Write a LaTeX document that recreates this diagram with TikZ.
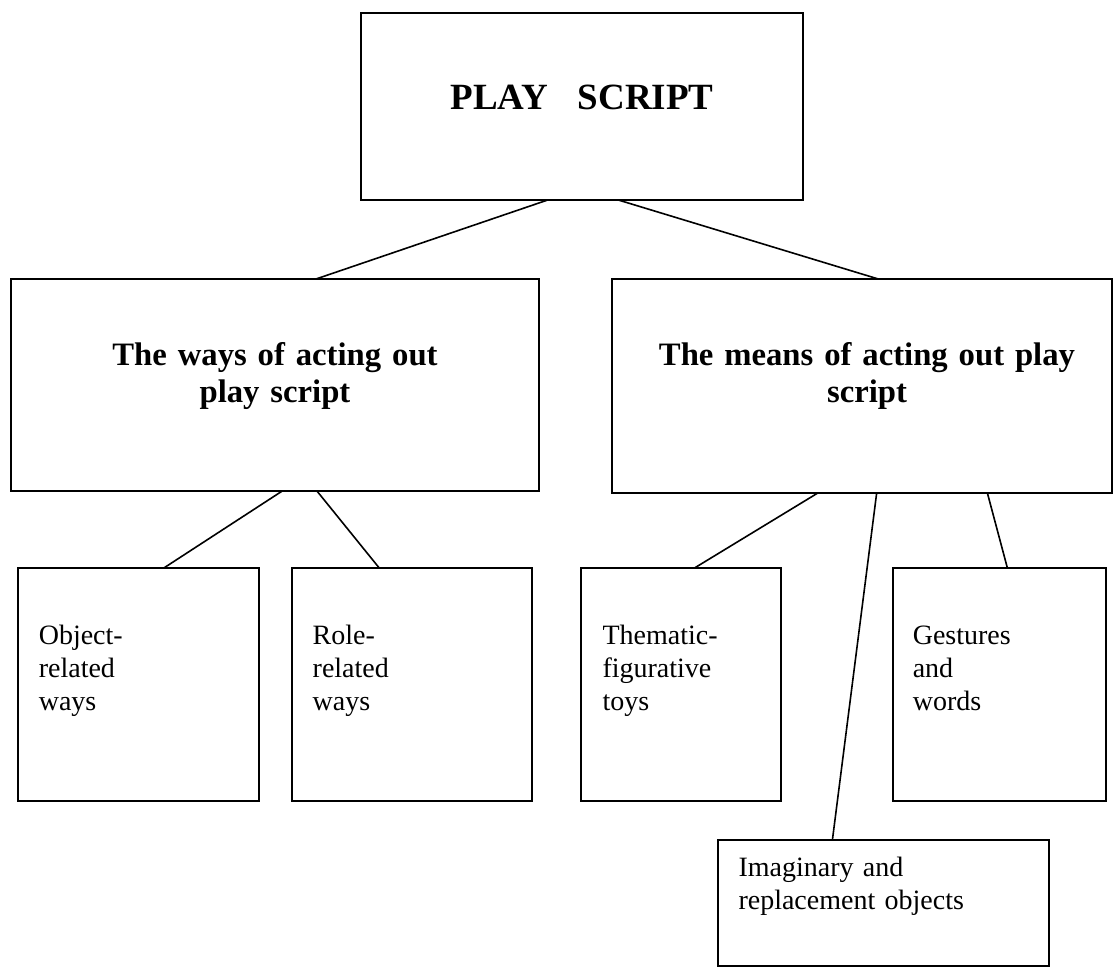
\documentclass[tikz,border=0pt]{standalone}
\usepackage{fontspec}
\setmainfont{Liberation Serif}
\usetikzlibrary{calc}
\begin{document}
\begin{tikzpicture}[x=1pt,y=-1pt,
  box/.style={draw, rectangle, line width=1.8pt, inner sep=0pt, outer sep=0pt},
  link/.style={line width=1.6pt},
  lbl/.style={inner sep=0pt, anchor=base west, text width=260pt, align=left, font=\fontsize{28}{33.3}\selectfont},
  ttl/.style={inner sep=0pt, anchor=base, align=center, font=\fontsize{32.7}{38}\selectfont\bfseries}
]
\useasboundingbox (0,0) rectangle (1114,968);
\fill[white] (0,0) rectangle (1114,968);

% boxes
\node[box, minimum width=442pt, minimum height=187.3pt] (ps) at (582,106.35) {};
\node[box, minimum width=528pt, minimum height=211.7pt] (ways) at (275,384.85) {};
\node[box, minimum width=500.3pt, minimum height=213.7pt] (means) at (861.85,385.85) {};
\node[box, minimum width=241pt, minimum height=233pt] (obj) at (138.5,684.2) {};
\node[box, minimum width=240pt, minimum height=233pt] (role) at (412,684.2) {};
\node[box, minimum width=200pt, minimum height=233pt] (them) at (680.8,684.2) {};
\node[box, minimum width=213pt, minimum height=233pt] (gest) at (999.5,684.2) {};
\node[box, minimum width=331.5pt, minimum height=126pt] (imag) at (883.5,903) {};

% texts
\node[inner sep=0pt, anchor=base, font=\fontsize{37}{44}\selectfont\bfseries] (tps) at (582,110) {PLAY\hspace{30pt}SCRIPT};
\node[ttl, text width=500pt] (tways) at (275,365) {The ways of acting out\\play script};
\node[ttl, text width=490pt] (tmeans) at (867,365) {The means of acting out play\\script};
\node[lbl] (tobj) at (38.6,644.3) {Object-\\related\\ways};
\node[lbl] (trole) at (312.5,644.3) {Role-\\related\\ways};
\node[lbl] (tthem) at (602.3,644.3) {Thematic-\\figurative\\toys};
\node[lbl] (tgest) at (912.6,644.3) {Gestures\\and\\words};
\node[lbl, text width=320pt] (timag) at (738.3,876) {Imaginary and\\replacement objects};

% connectors
\draw[link] (547.7,0 |- ps.south) -- (316,0 |- ways.north);
\draw[link] (618.3,0 |- ps.south) -- (878.3,0 |- means.north);
\draw[link] (282.7,0 |- ways.south) -- (164.3,0 |- obj.north);
\draw[link] (316.7,0 |- ways.south) -- (379,0 |- role.north);
\draw[link] (818.3,0 |- means.south) -- (695,0 |- them.north);
\draw[link] (876.7,0 |- means.south) -- (832.4,0 |- imag.north);
\draw[link] (987.3,0 |- means.south) -- (1007.3,0 |- gest.north);
\end{tikzpicture}
\end{document}
